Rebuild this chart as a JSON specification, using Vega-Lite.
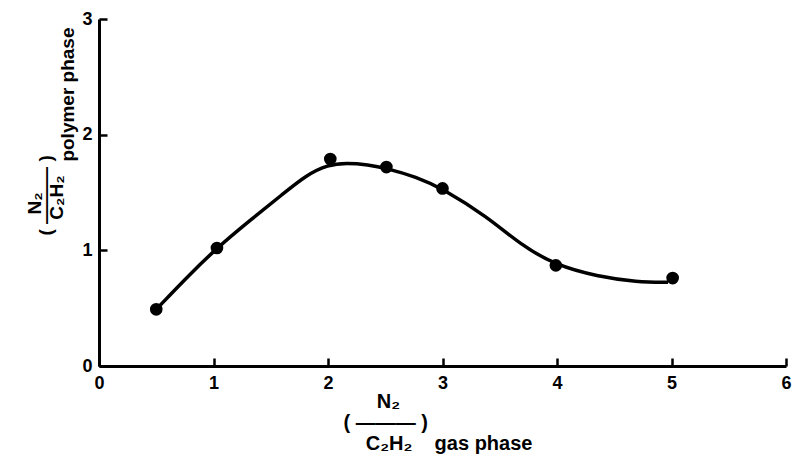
{
  "$schema": "https://vega.github.io/schema/vega-lite/v6.json",
  "width": 687,
  "height": 347,
  "autosize": {"type": "none"},
  "padding": {"left": 99, "top": 19, "right": 6, "bottom": 93},
  "background": "white",
  "config": {
    "view": {"stroke": null},
    "axis": {
      "grid": false,
      "domainColor": "black",
      "domainWidth": 3,
      "tickColor": "black",
      "tickWidth": 2.5,
      "labelFont": "Liberation Sans",
      "labelFontWeight": "bold",
      "labelFontSize": 18,
      "labelColor": "black",
      "labelFlush": false,
      "titleFont": "Liberation Sans",
      "titleFontWeight": "bold",
      "titleColor": "black"
    }
  },
  "datasets": {
    "curve": [
      {"x": 0.5, "y": 0.49},
      {"x": 0.8, "y": 0.8},
      {"x": 1.03, "y": 1.02},
      {"x": 1.32, "y": 1.26},
      {"x": 1.61, "y": 1.49},
      {"x": 1.81, "y": 1.65},
      {"x": 2.0, "y": 1.74},
      {"x": 2.16, "y": 1.755},
      {"x": 2.35, "y": 1.74},
      {"x": 2.51, "y": 1.71},
      {"x": 2.77, "y": 1.635},
      {"x": 3.0, "y": 1.535},
      {"x": 3.39, "y": 1.29},
      {"x": 3.68, "y": 1.05},
      {"x": 3.99, "y": 0.87},
      {"x": 4.35, "y": 0.775},
      {"x": 4.7, "y": 0.725},
      {"x": 4.97, "y": 0.725}
    ],
    "pts": [
      {"x": 0.5, "y": 0.49},
      {"x": 1.03, "y": 1.02},
      {"x": 2.02, "y": 1.79},
      {"x": 2.51, "y": 1.72},
      {"x": 3.0, "y": 1.535},
      {"x": 3.99, "y": 0.87},
      {"x": 5.01, "y": 0.76}
    ]
  },
  "layer": [
    {
      "data": {"name": "curve"},
      "mark": {"type": "line", "interpolate": "basis", "color": "black", "strokeWidth": 3.5},
      "encoding": {
        "x": {
          "field": "x", "type": "quantitative",
          "scale": {"domain": [0, 6], "nice": false},
          "axis": {
            "values": [0, 1, 2, 3, 4, 5, 6],
            "format": "d",
            "tickSize": -8,
            "labelPadding": 16,
            "titleFontSize": 20,
            "titleLineHeight": 21,
            "titleAlign": "left",
            "titleBaseline": "alphabetic",
            "titleX": 244,
            "titleY": 41,
            "title": ["\u200b\u00a0\u00a0\u00a0\u00a0\u00a0\u00a0N₂", "(\u00a0———\u00a0)", "\u200b\u00a0\u00a0\u00a0\u00a0C₂H₂\u00a0\u00a0\u00a0\u00a0gas phase"]
          }
        },
        "y": {
          "field": "y", "type": "quantitative",
          "scale": {"domain": [0, 3], "nice": false},
          "axis": {
            "values": [0, 1, 2, 3],
            "format": "d",
            "tickSize": -8,
            "labelPadding": 15,
            "titleFontSize": 19,
            "titleLineHeight": 11,
            "titleAngle": 270,
            "titleAlign": "left",
            "titleBaseline": "alphabetic",
            "titleX": -59,
            "titleY": 216,
            "title": ["\u200b\u00a0\u00a0\u00a0\u00a0N₂", "(\u00a0———\u00a0)", "\u200b\u00a0\u00a0\u00a0C₂H₂", "\u200b\u00a0\u00a0\u00a0\u00a0\u00a0\u00a0\u00a0\u00a0\u00a0\u00a0\u00a0\u00a0\u00a0\u00a0polymer phase"]
          }
        }
      }
    },
    {
      "data": {"name": "pts"},
      "mark": {"type": "point", "filled": true, "color": "black", "size": 160, "opacity": 1},
      "encoding": {
        "x": {"field": "x", "type": "quantitative"},
        "y": {"field": "y", "type": "quantitative"}
      }
    }
  ]
}
